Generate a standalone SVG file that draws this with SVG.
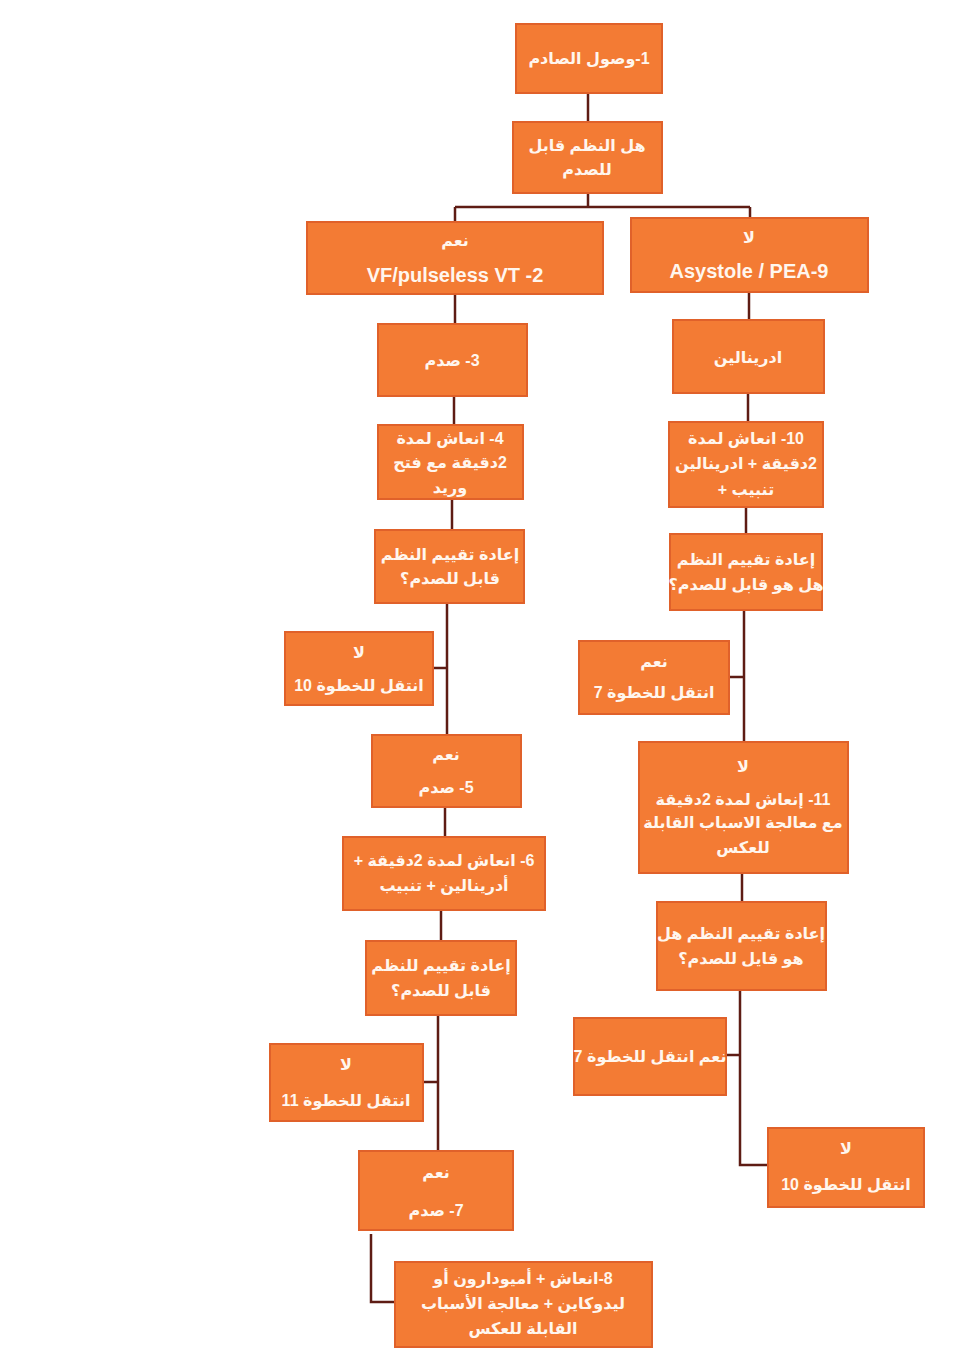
<svg xmlns="http://www.w3.org/2000/svg" width="954" height="1349" viewBox="0 0 954 1349">
  <style>
    .box { fill: #F37B34; stroke: #E0612A; stroke-width: 2; }
    .t { font-family: "Liberation Sans", "DejaVu Sans", sans-serif; font-weight: bold; font-size: 16px; fill: #FFF6EE; text-anchor: middle; dominant-baseline: central; }
    .rtl { direction: rtl; unicode-bidi: embed; }
    .lat { font-size: 20px; }
    .ln { fill: none; stroke: #5E1C14; stroke-width: 2.5; }
  </style>
  <rect width="954" height="1349" fill="#FFFFFF"/>

  <!-- connectors -->
  <g id="connectors">
    <path class="ln" d="M588 93 V122"/>
    <path class="ln" d="M588 193 V207 M455 207 H750 M455 207 V222 M750 207 V218"/>
    <path class="ln" d="M455 294 V324"/>
    <path class="ln" d="M749 292 V320"/>
    <path class="ln" d="M454 396 V425"/>
    <path class="ln" d="M748 393 V422"/>
    <path class="ln" d="M452 499 V530"/>
    <path class="ln" d="M746 507 V534"/>
    <path class="ln" d="M447 603 V735 M433 668 H447"/>
    <path class="ln" d="M744 610 V742 M729 677 H744"/>
    <path class="ln" d="M445 807 V837"/>
    <path class="ln" d="M742 873 V902"/>
    <path class="ln" d="M441 910 V941"/>
    <path class="ln" d="M438 1015 V1151 M423 1082 H438"/>
    <path class="ln" d="M740 990 V1165 H768 M726 1055 H740"/>
    <path class="ln" d="M371 1234 V1302 H395"/>
  </g>

  <g id="n1">
    <rect class="box" x="516" y="24" width="146" height="69"/>
    <text class="t rtl" x="589" y="58">1-وصول الصادم</text>
  </g>
  <g id="n-shockable">
    <rect class="box" x="513" y="122" width="149" height="71"/>
    <text class="t rtl" x="587" y="145">هل النظم قابل</text>
    <text class="t rtl" x="587" y="169">للصدم</text>
  </g>
  <g id="n2">
    <rect class="box" x="307" y="222" width="296" height="72"/>
    <text class="t rtl" x="455" y="240">نعم</text>
    <text class="t lat" x="455" y="275">VF/pulseless VT -2</text>
  </g>
  <g id="n9">
    <rect class="box" x="631" y="218" width="237" height="74"/>
    <text class="t rtl" x="749" y="237">لا</text>
    <text class="t lat" x="749" y="271">Asystole / PEA-9</text>
  </g>
  <g id="n3">
    <rect class="box" x="378" y="324" width="149" height="72"/>
    <text class="t rtl" x="452" y="360">3- صدم</text>
  </g>
  <g id="n-adrenaline">
    <rect class="box" x="673" y="320" width="151" height="73"/>
    <text class="t rtl" x="748" y="357">ادرينالين</text>
  </g>
  <g id="n4">
    <rect class="box" x="378" y="425" width="145" height="74"/>
    <text class="t rtl" x="450" y="438">4- انعاش لمدة</text>
    <text class="t rtl" x="450" y="462">2دقيقة مع فتح</text>
    <text class="t rtl" x="450" y="487">وريد</text>
  </g>
  <g id="n10">
    <rect class="box" x="669" y="422" width="154" height="85"/>
    <text class="t rtl" x="746" y="438">10- انعاش لمدة</text>
    <text class="t rtl" x="746" y="463">2دقيقة + ادرينالين</text>
    <text class="t rtl" x="746" y="489">تنبيب +</text>
  </g>
  <g id="n-reassess-a">
    <rect class="box" x="375" y="530" width="149" height="73"/>
    <text class="t rtl" x="450" y="554">إعادة تقييم النظم</text>
    <text class="t rtl" x="450" y="578">قابل للصدم؟</text>
  </g>
  <g id="n-reassess-b">
    <rect class="box" x="670" y="534" width="152" height="76"/>
    <text class="t rtl" x="746" y="559">إعادة تقييم النظم</text>
    <text class="t rtl" x="746" y="584">هل هو قابل للصدم؟</text>
  </g>
  <g id="n-goto10-a">
    <rect class="box" x="285" y="632" width="148" height="73"/>
    <text class="t rtl" x="359" y="652">لا</text>
    <text class="t rtl" x="359" y="685" font-size="17">انتقل للخطوة 10</text>
  </g>
  <g id="n-goto7-a">
    <rect class="box" x="579" y="641" width="150" height="73"/>
    <text class="t rtl" x="654" y="661">نعم</text>
    <text class="t rtl" x="654" y="692" font-size="17">انتقل للخطوة 7</text>
  </g>
  <g id="n5">
    <rect class="box" x="372" y="735" width="149" height="72"/>
    <text class="t rtl" x="446" y="754">نعم</text>
    <text class="t rtl" x="446" y="787" font-size="17">5- صدم</text>
  </g>
  <g id="n11">
    <rect class="box" x="639" y="742" width="209" height="131"/>
    <text class="t rtl" x="743" y="766">لا</text>
    <text class="t rtl" x="743" y="799" font-size="17">11- إنعاش لمدة 2دقيقة</text>
    <text class="t rtl" x="743" y="822">مع معالجة الاسباب القابلة</text>
    <text class="t rtl" x="743" y="847">للعكس</text>
  </g>
  <g id="n6">
    <rect class="box" x="343" y="837" width="202" height="73"/>
    <text class="t rtl" x="444" y="860">6- انعاش لمدة 2دقيقة +</text>
    <text class="t rtl" x="444" y="885">أدرينالين + تنبيب</text>
  </g>
  <g id="n-reassess-c">
    <rect class="box" x="657" y="902" width="169" height="88"/>
    <text class="t rtl" x="741" y="933">إعادة تقييم النظم هل</text>
    <text class="t rtl" x="741" y="958">هو قايل للصدم؟</text>
  </g>
  <g id="n-reassess-d">
    <rect class="box" x="366" y="941" width="150" height="74"/>
    <text class="t rtl" x="441" y="965">إعادة تقييم للنظم</text>
    <text class="t rtl" x="441" y="990">قابل للصدم؟</text>
  </g>
  <g id="n-goto7-b">
    <rect class="box" x="574" y="1018" width="152" height="77"/>
    <text class="t rtl" x="650" y="1056" font-size="17">نعم انتقل للخطوة 7</text>
  </g>
  <g id="n-goto11">
    <rect class="box" x="270" y="1044" width="153" height="77"/>
    <text class="t rtl" x="346" y="1064">لا</text>
    <text class="t rtl" x="346" y="1100" font-size="17">انتقل للخطوة 11</text>
  </g>
  <g id="n7">
    <rect class="box" x="359" y="1151" width="154" height="79"/>
    <text class="t rtl" x="436" y="1172">نعم</text>
    <text class="t rtl" x="436" y="1210" font-size="17">7- صدم</text>
  </g>
  <g id="n-goto10-b">
    <rect class="box" x="768" y="1128" width="156" height="79"/>
    <text class="t rtl" x="846" y="1148">لا</text>
    <text class="t rtl" x="846" y="1184" font-size="17">انتقل للخطوة 10</text>
  </g>
  <g id="n8">
    <rect class="box" x="395" y="1262" width="257" height="85"/>
    <text class="t rtl" x="523" y="1278">8-انعاش + أميودارون أو</text>
    <text class="t rtl" x="523" y="1303">ليدوكاين + معالجة الأسباب</text>
    <text class="t rtl" x="523" y="1328">القابلة للعكس</text>
  </g>
</svg>
